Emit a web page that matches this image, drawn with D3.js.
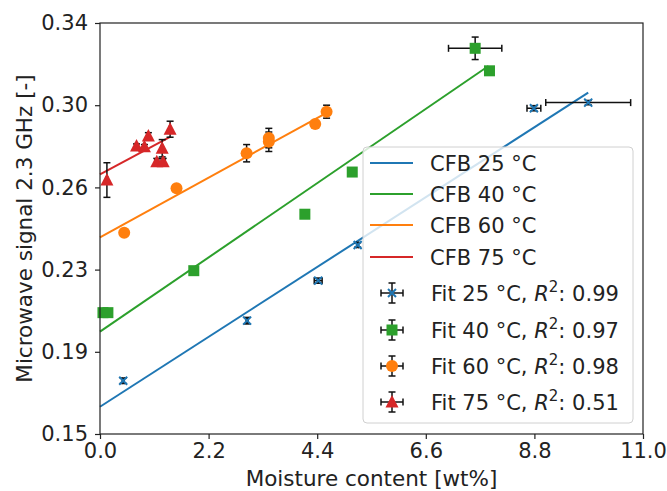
<!DOCTYPE html>
<html>
<head>
<meta charset="utf-8">
<script src="https://cdn.jsdelivr.net/npm/d3@7"></script>
<style>
  body { margin: 0; background: #fff; }
  text { font-family: "DejaVu Sans", sans-serif; fill: #222; }
</style>
</head>
<body>
<div id="chart"></div>
<script>
var x25 = [0.47, 2.98, 4.42, 5.22, 8.79, 9.89];
var y25 = [0.1746, 0.2024, 0.2209, 0.2374, 0.3006, 0.3032];
var xe25 = [0.02, 0.02, 0.08, 0.02, 0.14, 0.86];
var ye25 = [0.0012, 0.0015, 0.0012, 0.001, 0.0012, 0.001];

var x40 = [0.06, 0.16, 1.90, 4.15, 5.11, 7.60, 7.89];
var y40 = [0.2061, 0.2061, 0.2255, 0.2516, 0.2711, 0.3283, 0.3179];
var xe40 = [0.02, 0.02, 0.02, 0.02, 0.02, 0.54, 0.02];
var ye40 = [0.0005, 0.0005, 0.0005, 0.0005, 0.0005, 0.0052, 0.0005];

var x60 = [0.49, 1.55, 2.97, 3.42, 3.42, 4.36, 4.59];
var y60 = [0.2430, 0.2636, 0.2798, 0.2851, 0.2868, 0.2933, 0.2990];
var xe60 = [0.02, 0.02, 0.02, 0.02, 0.02, 0.02, 0.02];
var ye60 = [0.0005, 0.0005, 0.004, 0.0045, 0.0045, 0.001, 0.003];

var x75 = [0.14, 0.74, 0.90, 0.98, 1.15, 1.28, 1.26, 1.42];
var y75 = [0.2674, 0.2831, 0.2828, 0.2878, 0.2759, 0.2759, 0.2821, 0.2909];
var xe75 = [0.02, 0.02, 0.02, 0.02, 0.04, 0.04, 0.02, 0.02];
var ye75 = [0.008, 0.001, 0.001, 0.0015, 0.0015, 0.0015, 0.004, 0.0037];

// fitted lines (end points)
var fit25 = [[0, 0.1626], [9.89, 0.3078]];
var fit40 = [[0, 0.1973], [7.87, 0.3201]];
var fit60 = [[0, 0.2409], [4.59, 0.2985]];
var fit75 = [[0, 0.2700], [1.42, 0.2874]];

var temps = ["25", "40", "60", "75"];
var r2 = ["0.99", "0.97", "0.98", "0.51"];
var xTicks = [0, 2.2, 4.4, 6.6, 8.8, 11.0];
var yTicks = [0.15, 0.188, 0.226, 0.264, 0.302, 0.34];

function init() {
  var w = 667;
  var h = 491;
  var left = 100, right = 643, top = 23, bottom = 434;
  var fs = 21;

  var colors = ["#1f77b4", "#2ca02c", "#ff7f0e", "#d62728"];
  var shapes = ["x", "square", "circle", "triangle"];

  var xScale = d3.scaleLinear().domain([0, 11]).range([left, right]);
  var yScale = d3.scaleLinear().domain([0.15, 0.34]).range([bottom, top]);

  var svg = d3.select("#chart")
    .append("svg")
    .attr("width", w)
    .attr("height", h);

  var plot = svg.append("g");

  var fits = [fit25, fit40, fit60, fit75];
  var line = d3.line()
    .x(function(d) { return xScale(d[0]); })
    .y(function(d) { return yScale(d[1]); });

  fits.forEach(function(f, i) {
    plot.append("path")
      .attr("d", line(f))
      .attr("fill", "none")
      .attr("stroke", colors[i])
      .attr("stroke-width", 2);
  });

  function drawMarker(g, shape, color, cx, cy) {
    if (shape == "circle") {
      g.append("circle").attr("cx", cx).attr("cy", cy).attr("r", 6).attr("fill", color);
    } else if (shape == "square") {
      g.append("rect").attr("x", cx - 5.5).attr("y", cy - 5.5)
        .attr("width", 11).attr("height", 11).attr("fill", color);
    } else if (shape == "triangle") {
      g.append("path")
        .attr("d", "M" + cx + "," + (cy - 7) + "L" + (cx + 6.5) + "," + (cy + 5.5) + "L" + (cx - 6.5) + "," + (cy + 5.5) + "Z")
        .attr("fill", color);
    } else {
      g.append("path")
        .attr("d", "M" + (cx - 4) + "," + (cy - 4) + "L" + (cx + 4) + "," + (cy + 4) +
          "M" + (cx - 4) + "," + (cy + 4) + "L" + (cx + 4) + "," + (cy - 4))
        .attr("stroke", color).attr("stroke-width", 2);
    }
  }

  function errBar(g, x1, y1, x2, y2, horiz) {
    g.append("line").attr("x1", x1).attr("y1", y1).attr("x2", x2).attr("y2", y2)
      .attr("stroke", "#111").attr("stroke-width", 1.5);
    var c = 3.5;
    if (horiz) {
      [x1, x2].forEach(function(x) {
        g.append("line").attr("x1", x).attr("x2", x).attr("y1", y1 - c).attr("y2", y1 + c)
          .attr("stroke", "#111").attr("stroke-width", 1.5);
      });
    } else {
      [y1, y2].forEach(function(y) {
        g.append("line").attr("y1", y).attr("y2", y).attr("x1", x1 - c).attr("x2", x1 + c)
          .attr("stroke", "#111").attr("stroke-width", 1.5);
      });
    }
  }

  var xs = [x25, x40, x60, x75];
  var ys = [y25, y40, y60, y75];
  var xes = [xe25, xe40, xe60, xe75];
  var yes = [ye25, ye40, ye60, ye75];

  xs.forEach(function(xarr, i) {
    var g = plot.append("g");
    xarr.forEach(function(x, j) {
      var y = ys[i][j];
      errBar(g, xScale(x - xes[i][j]), yScale(y), xScale(x + xes[i][j]), yScale(y), true);
      errBar(g, xScale(x), yScale(y - yes[i][j]), xScale(x), yScale(y + yes[i][j]), false);
    });
    xarr.forEach(function(x, j) {
      drawMarker(g, shapes[i], colors[i], xScale(x), yScale(ys[i][j]));
    });
  });

  // axes
  var xAxis = d3.axisBottom(xScale)
    .tickValues(xTicks)
    .tickSize(5)
    .tickPadding(4)
    .tickFormat(d3.format(".1f"));
  var yAxis = d3.axisLeft(yScale)
    .tickValues(yTicks)
    .tickSize(5)
    .tickPadding(7)
    .tickFormat(d3.format(".2f"));

  var gx = svg.append("g")
    .attr("transform", "translate(0," + bottom + ")")
    .call(xAxis);
  var gy = svg.append("g")
    .attr("transform", "translate(" + left + ",0)")
    .call(yAxis);
  [gx, gy].forEach(function(g) {
    g.select(".domain").remove();
    g.selectAll("line").attr("stroke", "#222").attr("stroke-width", 1.2);
    g.selectAll("text").attr("font-size", fs).attr("font-family", "DejaVu Sans").attr("fill", "#222");
  });

  svg.append("rect")
    .attr("x", left).attr("y", top)
    .attr("width", right - left).attr("height", bottom - top)
    .attr("fill", "none").attr("stroke", "#222").attr("stroke-width", 1.2);

  svg.append("text")
    .attr("x", (left + right) / 2).attr("y", 486)
    .attr("text-anchor", "middle").attr("font-size", 21.5)
    .text("Moisture content [wt%]");
  svg.append("text")
    .attr("transform", "translate(32," + ((top + bottom) / 2) + ") rotate(-90)")
    .attr("text-anchor", "middle").attr("font-size", 21.5)
    .text("Microwave signal 2.3 GHz [-]");

  // legend
  var lg = svg.append("g");
  lg.append("rect")
    .attr("x", 363).attr("y", 147).attr("width", 270).attr("height", 276)
    .attr("rx", 4).attr("fill", "white").attr("fill-opacity", 0.8)
    .attr("stroke", "#d0d0d0").attr("stroke-width", 1);

  var lineRows = [163, 194, 225, 257];
  temps.forEach(function(t, i) {
    lg.append("line").attr("x1", 370).attr("x2", 413)
      .attr("y1", lineRows[i]).attr("y2", lineRows[i])
      .attr("stroke", colors[i]).attr("stroke-width", 2);
    lg.append("text").attr("x", 430).attr("y", lineRows[i] + 7.5).attr("font-size", fs)
      .text("CFB " + t + " °C");
  });

  var fitRows = [293, 330, 366, 402];
  temps.forEach(function(t, i) {
    var cy = fitRows[i];
    errBar(lg, 381, cy, 403, cy, true);
    errBar(lg, 392, cy - 10, 392, cy + 10, false);
    drawMarker(lg, shapes[i], colors[i], 392, cy);
    var tx = lg.append("text").attr("x", 431).attr("y", cy + 7.5).attr("font-size", fs);
    tx.append("tspan").text("Fit " + t + " °C, ");
    tx.append("tspan").attr("font-style", "italic").text("R");
    tx.append("tspan").attr("font-size", 15).attr("dy", -9).text("2");
    tx.append("tspan").attr("dy", 9).text(": " + r2[i]);
  });
}

window.onload = init;
</script>
</body>
</html>
